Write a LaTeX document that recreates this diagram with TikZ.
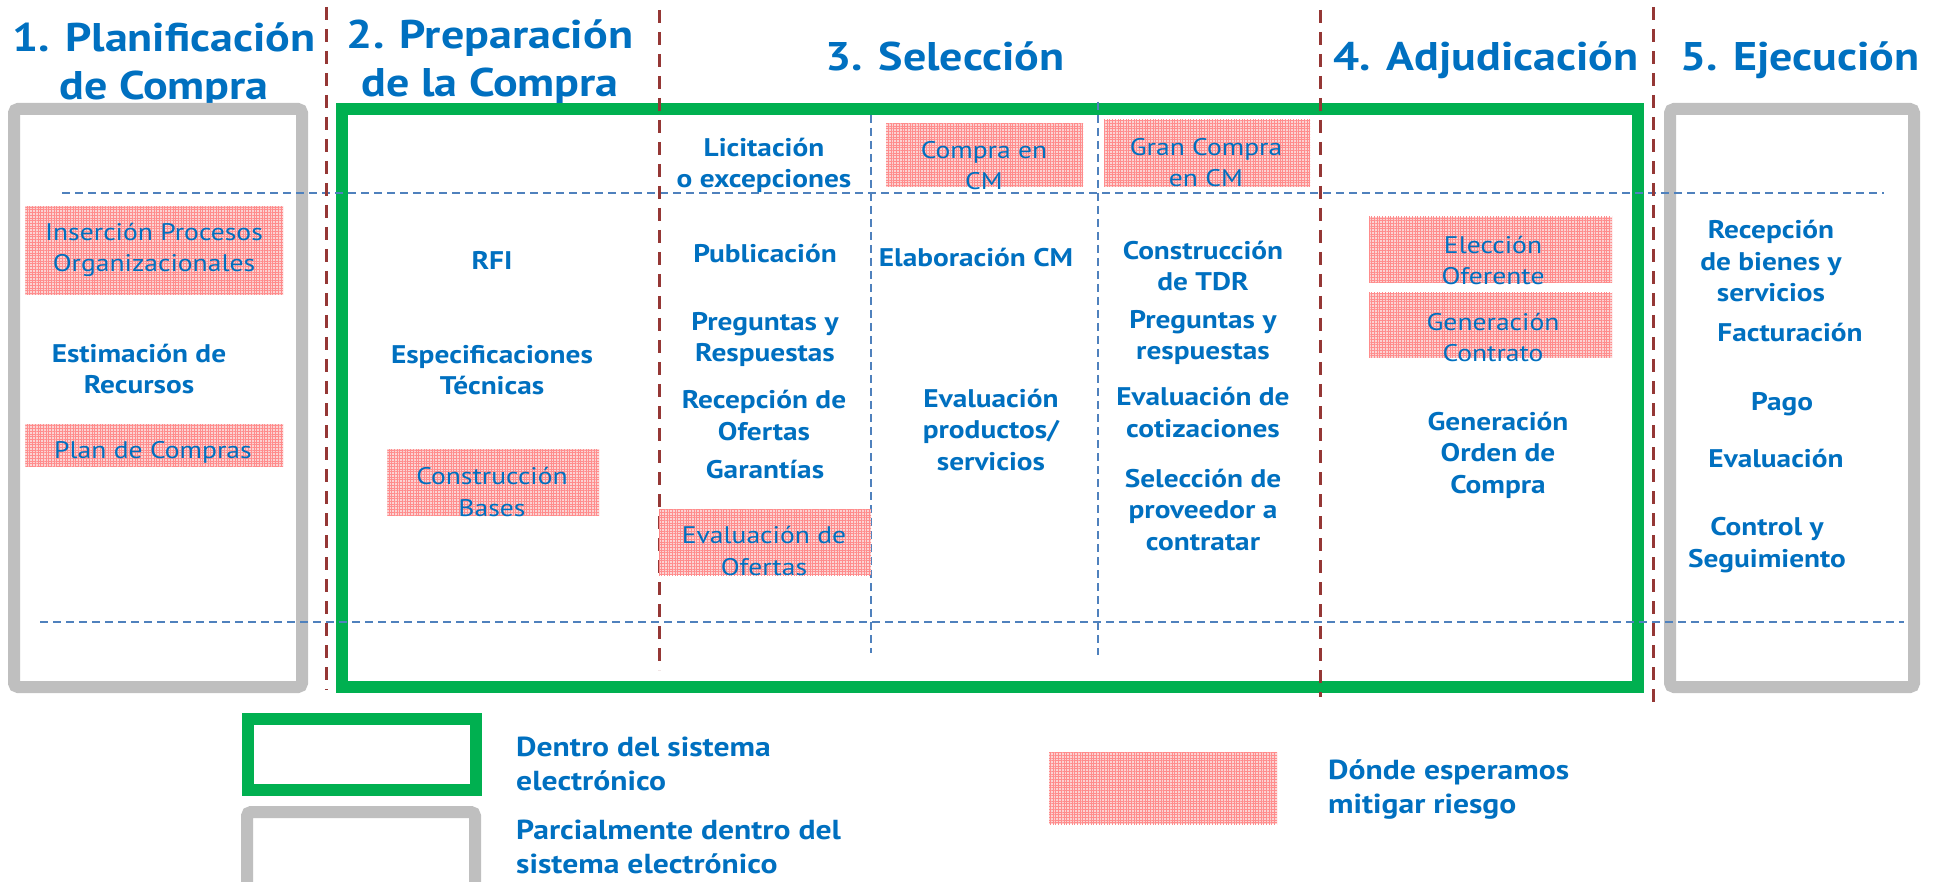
\documentclass[tikz,border=0pt]{standalone}
\usepackage{fontspec}
\setmainfont{PT Sans}[FakeStretch=1.15]
\usetikzlibrary{patterns.meta}
\definecolor{txtblue}{HTML}{0070C0}
\definecolor{boxgreen}{HTML}{00B050}
\definecolor{boxgray}{HTML}{BFBFBF}
\definecolor{sepred}{HTML}{953735}
\definecolor{gridblue}{HTML}{4F81BD}
\definecolor{riskpink}{HTML}{FBD3D3}
\tikzset{
  phase/.style={font=\fontsize{40}{48}\selectfont\bfseries, text=txtblue, align=center, anchor=base, inner sep=0pt},
  act/.style={font=\fontsize{25.5}{31.5}\selectfont\bfseries, text=txtblue, align=center, anchor=base, inner sep=0pt},
  risktxt/.style={act, font=\fontsize{24}{31.5}\selectfont},
  legtxt/.style={act, font=\fontsize{27.5}{34}\selectfont\bfseries, align=left, anchor=base west},
  riskbox/.style={fill=riskpink, postaction={pattern={Hatch[angle=0,distance=2.7pt,line width=0.5pt]}, pattern color=red!45}},
  frame/.style={line width=12pt, fill=white},
  phasesep/.style={sepred, line width=3pt, dash pattern=on 13pt off 9pt},
  rowsep/.style={gridblue, line width=1.5pt, dash pattern=on 8pt off 5pt},
}
\begin{document}
\begin{tikzpicture}[x=1pt,y=-1pt]
\useasboundingbox (0,0) rectangle (1946,882);
% fases
\node[phase] (plan) at (164,100) {1. Planificación\\de Compra};
\node[phase] (prep) at (490,97) {2. Preparación\\de la Compra};
\node[phase] (sel) at (945,71) {3. Selección};
\node[phase] (adj) at (1486,71) {4. Adjudicación};
\node[phase] (ejec) at (1800,71) {5. Ejecución};
% marcos
\draw[frame, draw=boxgray, rounded corners=4pt] (14,109) rectangle (302,687);
\draw[frame, draw=boxgreen] (342,109) rectangle (1638,687);
\draw[frame, draw=boxgray, rounded corners=4pt] (1670,109) rectangle (1914,687);
% separadores
\draw[rowsep] (62,193) -- (1884,193);
\draw[rowsep] (40,622) -- (1904,622);
\draw[rowsep] (871,115) -- (871,653);
\draw[rowsep] (1098,102) -- (1098,655);
\draw[phasesep] (326,7) -- (326,690);
\draw[phasesep] (659,10) -- (659,670);
\draw[phasesep] (1320,10) -- (1320,697);
\draw[phasesep] (1653,7) -- (1653,707);
% zonas de riesgo
\path[riskbox] (25,206) rectangle (283,295);
\path[riskbox] (25,424) rectangle (283,466);
\path[riskbox] (387,449) rectangle (599,516);
\path[riskbox] (659,509) rectangle (871,575);
\path[riskbox] (886,124) rectangle (1083,187);
\path[riskbox] (1104,120) rectangle (1310,187);
\path[riskbox] (1369,217) rectangle (1612,283);
\path[riskbox] (1369,293) rectangle (1612,358);
% actividades
\node[risktxt] (insercion) at (154,272) {Inserción Procesos\\Organizacionales};
\node[act] (estimacion) at (139,394) {Estimación de\\Recursos};
\node[risktxt] (plancompras) at (153,458) {Plan de Compras};
\node[act] (rfi) at (492,270) {RFI};
\node[act] (especif) at (492,395) {Especificaciones\\Técnicas};
\node[risktxt] (bases) at (492,516) {Construcción\\Bases};
\node[act] (licit) at (764,188) {Licitación\\o excepciones};
\node[act] (publ) at (765,263) {Publicación};
\node[act] (preg) at (765,362) {Preguntas y\\Respuestas};
\node[act] (recep) at (764,440) {Recepción de\\Ofertas};
\node[act] (garant) at (765,478) {Garantías};
\node[risktxt] (evalof) at (764,575) {Evaluación de\\Ofertas};
\node[risktxt] (compracm) at (984,190) {Compra en\\CM};
\node[act] (elabcm) at (976,267) {Elaboración CM};
\node[act] (evalprod) at (991,470) {Evaluación\\productos/\\servicios};
\node[risktxt] (grancm) at (1206,187) {Gran Compra\\en CM};
\node[act] (tdr) at (1203,291) {Construcción\\de TDR};
\node[act] (pregtdr) at (1203,360) {Preguntas y\\respuestas};
\node[act] (evalcot) at (1203,437) {Evaluación de\\cotizaciones};
\node[act] (selprov) at (1203,550) {Selección de\\proveedor a\\contratar};
\node[risktxt] (eleccion) at (1493,285) {Elección\\Oferente};
\node[risktxt] (contrato) at (1493,362) {Generación\\Contrato};
\node[act] (orden) at (1498,493) {Generación\\Orden de\\Compra};
\node[act] (recbien) at (1771,302) {Recepción\\de bienes y\\servicios};
\node[act] (factura) at (1790,342) {Facturación};
\node[act] (pago) at (1782,410) {Pago};
\node[act] (evalejec) at (1776,467) {Evaluación};
\node[act] (control) at (1767,567) {Control y\\Seguimiento};
% leyenda
\draw[frame, draw=boxgreen] (248,719) rectangle (476,790);
\draw[frame, draw=boxgray, rounded corners=4pt] (247,812) rectangle (475,900);
\path[riskbox] (1049,752) rectangle (1277,824);
\node[legtxt] (legdentro) at (516,790) {Dentro del sistema\\electrónico};
\node[legtxt] (legparcial) at (516,873) {Parcialmente dentro del\\sistema electrónico};
\node[legtxt] (legriesgo) at (1328,813) {Dónde esperamos\\mitigar riesgo};
\end{tikzpicture}
\end{document}
